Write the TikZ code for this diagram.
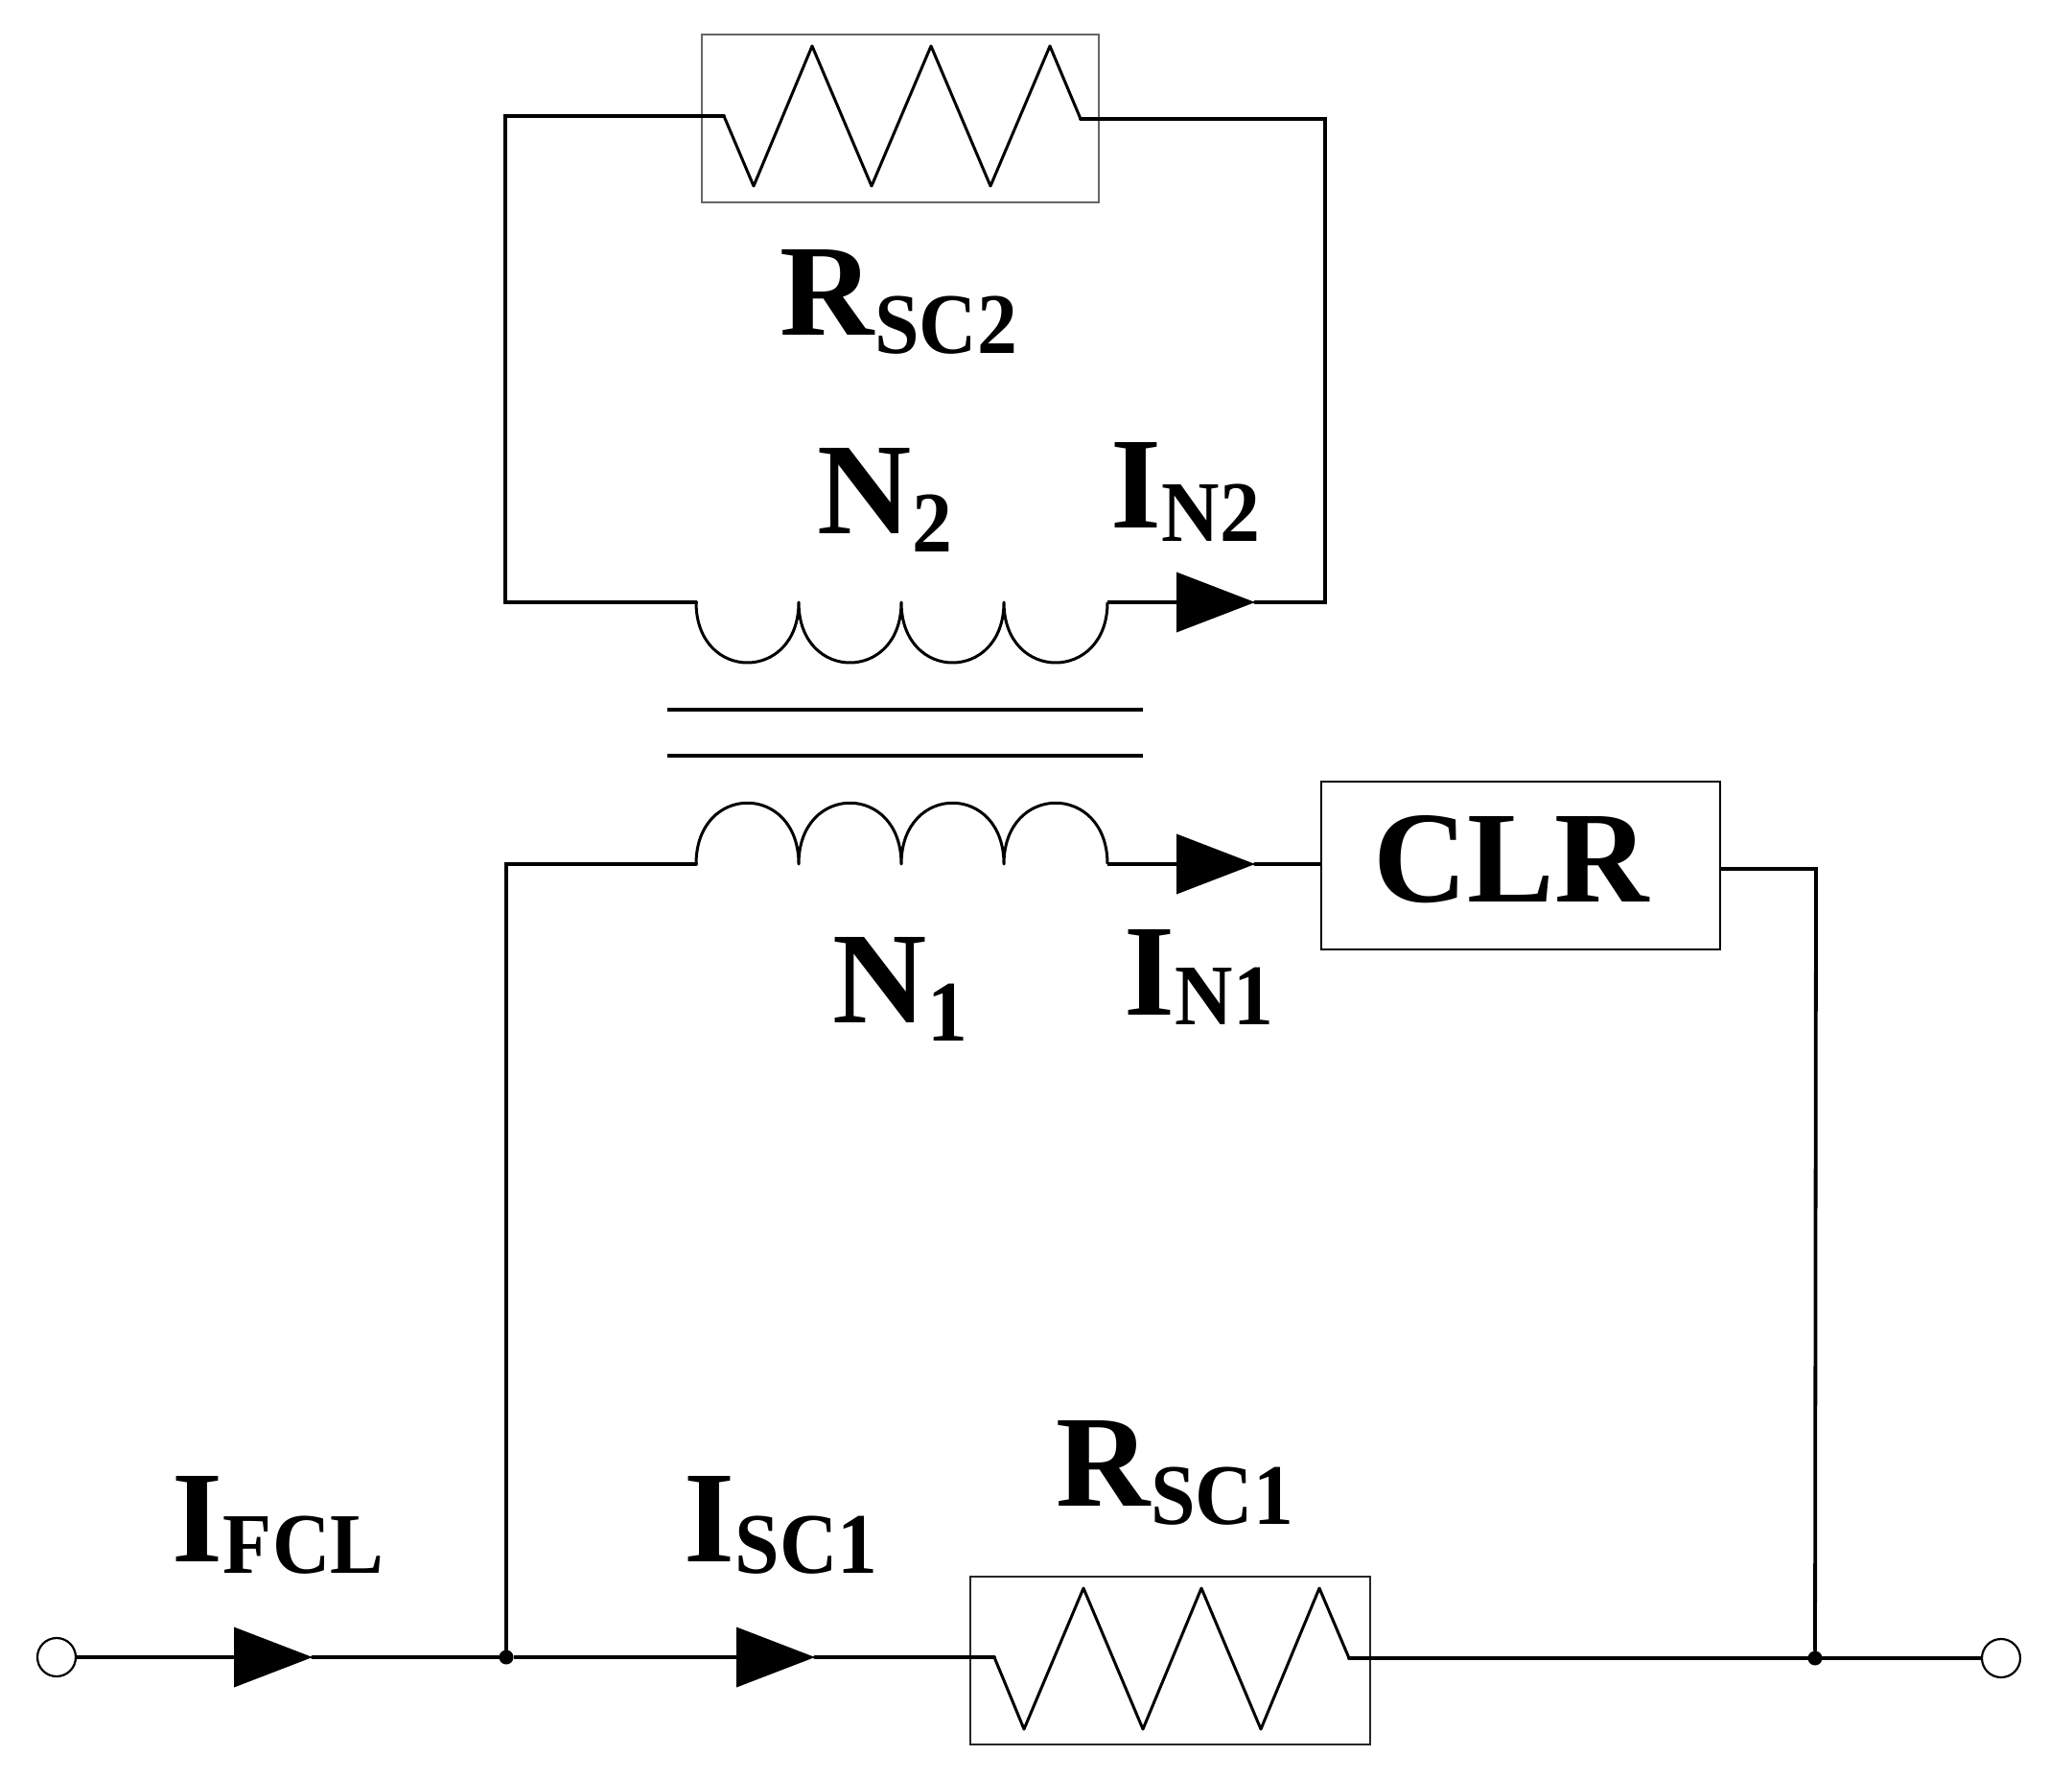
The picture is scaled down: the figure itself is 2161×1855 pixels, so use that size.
\documentclass[tikz,border=0pt]{standalone}
\usepackage{fontspec}
\usetikzlibrary{arrows.meta}
\setmainfont{Liberation Serif}
\newfontfamily\subfnt{Liberation Serif}[FakeStretch=0.93]
\newcommand{\LabT}[3]{{\fontsize{68pt}{68pt}\selectfont\bfseries #1}{\hspace{0.5pt}\raisebox{-#3}{\fontsize{45pt}{45pt}\subfnt\bfseries #2}}}
\tikzset{
  wire/.style={line width=1.9pt,black,line cap=round,line join=miter},
  thinwire/.style={line width=1.5pt,black,line join=round},
  flow/.style={wire,line cap=butt,-{Triangle[length=41pt,width=31pt]}},
  core/.style={line width=1.9pt,black},
  rbox/.style={draw=#1,line width=1pt,minimum height=87.5pt,inner sep=0pt},
  lab/.style={anchor=base west,inner sep=0pt,outer sep=0pt},
  term/.style={circle,draw=black,fill=white,line width=1.1pt,minimum size=20pt,inner sep=0pt},
  junc/.style={circle,fill=black,minimum size=7.5pt,inner sep=0pt},
}
\begin{document}
\begin{tikzpicture}[x=0.5pt,y=-0.5pt]
\useasboundingbox (0,0) rectangle (2161,1855);
% boxes
\node[rbox=black!60,minimum width=207pt] (rs2) at (939,123.5) {};
\node[rbox=black!85,minimum width=208.5pt] (rs1) at (1220.5,1731.5) {};
\node[draw=black,line width=1.2pt,minimum width=208pt,minimum height=87.5pt,inner sep=0pt,text depth=7pt,font=\fontsize{68pt}{68pt}\selectfont\bfseries] (clr) at (1586,902.5) {\hspace*{-10pt}CLR};
% terminals and junctions
\node[term] (tin) at (59,1728) {};
\node[term] (tout) at (2087,1729) {};
\node[junc] (j1) at (528,1728) {};
\node[junc] (j2) at (1893,1729) {};
% wire corners and component ends
\coordinate (tl) at (527,121);
\coordinate (bl) at (527,628);
\coordinate (tr) at (1382,124);
\coordinate (br) at (1382,628);
\coordinate (z2a) at (755,121);
\coordinate (z2b) at (1127,124);
\coordinate (l2a) at (726,628);
\coordinate (l2b) at (1155,628);
\coordinate (a2) at (1309,628);
\coordinate (l1a) at (726,901);
\coordinate (l1b) at (1155,901);
\coordinate (a1) at (1309,901);
\coordinate (c1) at (528,901);
\coordinate (c2) at (1894,906);
\coordinate (a3) at (326,1728);
\coordinate (a4) at (850,1728);
\coordinate (z1a) at (1037,1728);
\coordinate (z1b) at (1407,1729);
% upper resistor
\draw[thinwire] (z2a) -- (786,194) -- (847,48) -- (909,194) -- (971,48) -- (1033,194) -- (1095,48) -- (z2b);
\draw[wire] (z2a) -- (tl) -- (bl) -- (l2a);
\draw[wire] (z2b) -- (tr) -- (br) -- (a2);
% upper winding
\draw[thinwire] (l2a) .. controls (726,712) and (833,712) .. (833,628)
  .. controls (833,712) and (940,712) .. (940,628)
  .. controls (940,712) and (1047,712) .. (1047,628)
  .. controls (1047,712) and (1155,712) .. (l2b);
\draw[flow] (l2b) -- (a2);
% core
\coordinate (k1a) at (696,740); \coordinate (k1b) at (1192,740);
\coordinate (k2a) at (696,788); \coordinate (k2b) at (1192,788);
\draw[core] (k1a) -- (k1b);
\draw[core] (k2a) -- (k2b);
% lower winding
\draw[thinwire] (l1a) .. controls (726,816) and (833,816) .. (833,901)
  .. controls (833,816) and (940,816) .. (940,901)
  .. controls (940,816) and (1047,816) .. (1047,901)
  .. controls (1047,816) and (1155,816) .. (l1b);
\draw[wire] (j1) -- (c1) -- (l1a);
\draw[flow] (l1b) -- (a1);
\draw[wire] (a1) -- (clr.west |- a1);
\draw[wire] (clr.east |- c2) -- (c2) -- (j2);
% main line
\draw[flow] (tin) -- (a3);
\draw[wire] (a3) -- (j1);
\draw[flow] (j1) -- (a4);
\draw[wire] (a4) -- (z1a);
\draw[thinwire] (z1a) -- (1068,1803) -- (1130,1656) -- (1192,1803) -- (1253,1656) -- (1315,1803) -- (1376,1656) -- (z1b);
\draw[wire] (z1b) -- (j2) -- (tout);
% labels
\node[lab] (lrs2) at (813,350) {\LabT{R}{SC2}{9.5pt}};
\node[lab] (ln2) at (852,557) {\LabT{N}{2}{9.5pt}};
\node[lab] (lin2) at (1158,551) {\LabT{I}{N2}{7pt}};
\node[lab] (ln1) at (868,1066) {\LabT{N}{1}{9.5pt}};
\node[lab] (lin1) at (1172,1058) {\LabT{I}{N1}{5pt}};
\node[lab] (lrs1) at (1101,1570) {\LabT{R}{SC1}{9.5pt}};
\node[lab] (lif) at (179,1628) {\LabT{I}{FCL}{6pt}};
\node[lab] (lis) at (713,1628) {\LabT{I}{SC1}{6pt}};
\end{tikzpicture}
\end{document}
